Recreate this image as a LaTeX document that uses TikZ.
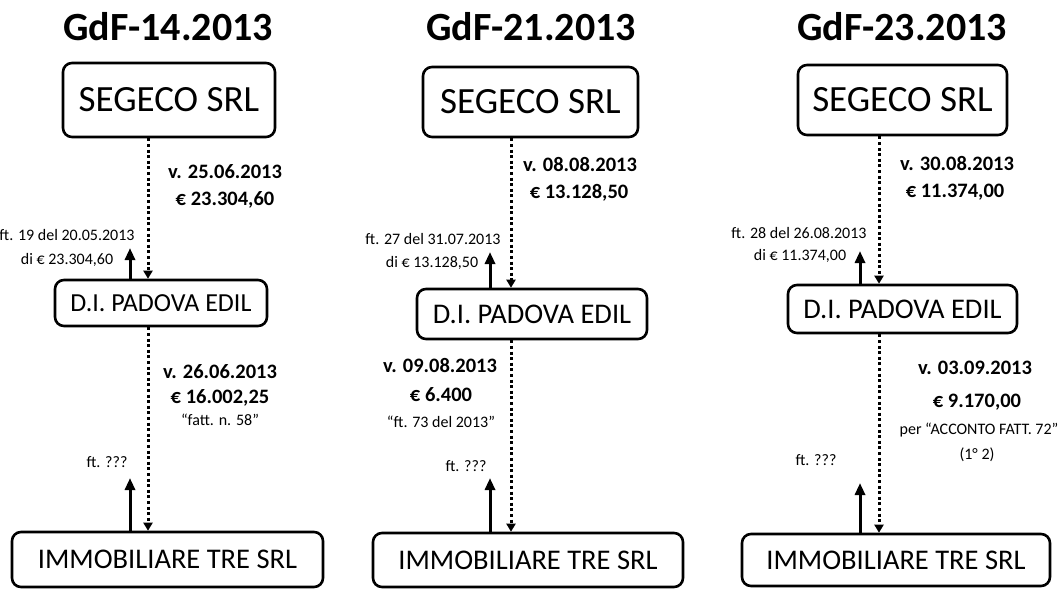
\documentclass[tikz,border=0pt]{standalone}
\usepackage{fontspec}
\setmainfont{Carlito}
\usetikzlibrary{arrows.meta}
\begin{document}
\begin{tikzpicture}[x=1pt,y=-1pt,
  box/.style={draw, line width=2.6pt, rounded corners=9pt, inner sep=0pt},
  segbox/.style={box, font=\fontsize{37}{39}\selectfont},
  midbox/.style={box, font=\fontsize{28.5}{30}\selectfont},
  ttl/.style={font=\bfseries\fontsize{40}{42}\selectfont, inner sep=0pt},
  lbl/.style={font=\bfseries\fontsize{20.5}{22}\selectfont, inner sep=0pt},
  sm/.style={font=\fontsize{16}{18}\selectfont, inner sep=0pt},
  dotarrow/.style={line width=3pt, dash pattern=on 3pt off 2.6pt, -{Triangle[length=8pt,width=9pt]}},
  uparrow/.style={line width=3pt, -{Triangle[length=12pt,width=10pt]}}
]
\useasboundingbox (0,0) rectangle (1062,590);
\fill[white] (0,0) rectangle (1062,590);

% ---------- Panel 1 ----------
\node[ttl] (t1) at (168,27) {GdF-14.2013};
\node[segbox, minimum width=212pt, minimum height=74pt] (s1) at (169,100) {SEGECO SRL};
\node[midbox, font=\fontsize{26}{28}\selectfont, minimum width=212pt, minimum height=46pt] (d1) at (161,303) {D.I. PADOVA EDIL};
\node[midbox, minimum width=311pt, minimum height=55pt] (i1) at (167.5,559.5) {IMMOBILIARE TRE SRL};
\coordinate (c1) at (148,0);
\coordinate (a1) at (130,0);
\coordinate (u1t) at (130,248);
\coordinate (u1b) at (130,478);
\draw[dotarrow] (s1.south -| c1) -- (d1.north -| c1);
\draw[dotarrow] (d1.south -| c1) -- (i1.north -| c1);
\draw[uparrow] (d1.north -| a1) -- (u1t);
\draw[uparrow] (i1.north -| a1) -- (u1b);
\node[lbl] (v1) at (225,172) {v. 25.06.2013};
\node[lbl] (e1) at (225,200) {€ 23.304,60};
\node[sm] (f1a) at (67,235) {ft. 19 del 20.05.2013};
\node[sm] (f1b) at (67,260) {di € 23.304,60};
\node[lbl] (v1b) at (220,372) {v. 26.06.2013};
\node[lbl] (e1b) at (220,398) {€ 16.002,25};
\node[sm] (q1) at (220,420) {“fatt. n. 58”};
\node[sm] (ft1) at (107,462) {ft. ???};

% ---------- Panel 2 ----------
\node[ttl] (t2) at (531,27) {GdF-21.2013};
\node[segbox, minimum width=215pt, minimum height=70pt] (s2) at (530.5,102) {SEGECO SRL};
\node[midbox, minimum width=230pt, minimum height=50pt] (d2) at (532,314) {D.I. PADOVA EDIL};
\node[midbox, minimum width=310pt, minimum height=54pt] (i2) at (528,560) {IMMOBILIARE TRE SRL};
\coordinate (c2) at (511,0);
\coordinate (a2) at (490,0);
\coordinate (u2t) at (490,252);
\coordinate (u2b) at (490,478);
\draw[dotarrow] (s2.south -| c2) -- (d2.north -| c2);
\draw[dotarrow] (d2.south -| c2) -- (i2.north -| c2);
\draw[uparrow] (d2.north -| a2) -- (u2t);
\draw[uparrow] (i2.north -| a2) -- (u2b);
\node[lbl] (v2) at (580,164) {v. 08.08.2013};
\node[lbl] (e2) at (579,193) {€ 13.128,50};
\node[sm] (f2a) at (433,239) {ft. 27 del 31.07.2013};
\node[sm] (f2b) at (432,263) {di € 13.128,50};
\node[lbl] (v2b) at (440,365) {v. 09.08.2013};
\node[lbl] (e2b) at (441,395) {€ 6.400};
\node[sm] (q2) at (441,422) {“ft. 73 del 2013”};
\node[sm] (ft2) at (466,466) {ft. ???};

% ---------- Panel 3 ----------
\node[ttl] (t3) at (902,27) {GdF-23.2013};
\node[segbox, minimum width=209pt, minimum height=70pt] (s3) at (902.5,100) {SEGECO SRL};
\node[midbox, minimum width=229pt, minimum height=48pt] (d3) at (902.5,309) {D.I. PADOVA EDIL};
\node[midbox, minimum width=308pt, minimum height=52pt] (i3) at (896,560) {IMMOBILIARE TRE SRL};
\coordinate (c3) at (879,0);
\coordinate (a3) at (860,0);
\coordinate (u3t) at (860,251);
\coordinate (u3b) at (860,483);
\draw[dotarrow] (s3.south -| c3) -- (d3.north -| c3);
\draw[dotarrow] (d3.south -| c3) -- (i3.north -| c3);
\draw[uparrow] (d3.north -| a3) -- (u3t);
\draw[uparrow] (i3.north -| a3) -- (u3b);
\node[lbl] (v3) at (957,163) {v. 30.08.2013};
\node[lbl] (e3) at (955,192) {€ 11.374,00};
\node[sm] (f3a) at (799,233) {ft. 28 del 26.08.2013};
\node[sm] (f3b) at (800,256) {di € 11.374,00};
\node[lbl] (v3b) at (975,368) {v. 03.09.2013};
\node[lbl] (e3b) at (977,402) {€ 9.170,00};
\node[sm] (q3a) at (979,430) {per “ACCONTO FATT. 72”};
\node[sm] (q3b) at (977,455) {(1° 2)};
\node[sm] (ft3) at (816,460) {ft. ???};
\end{tikzpicture}
\end{document}
